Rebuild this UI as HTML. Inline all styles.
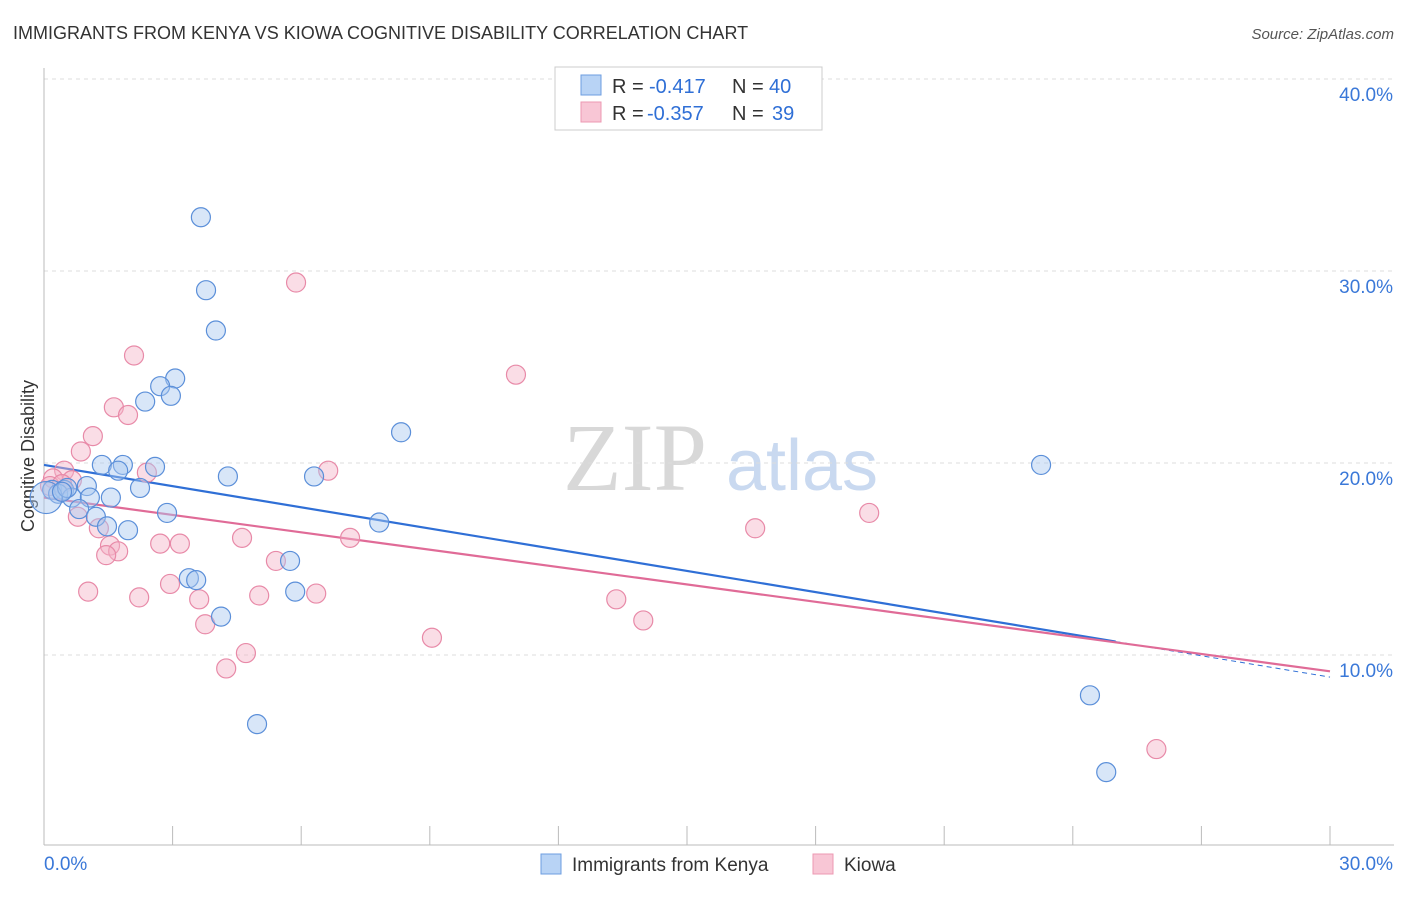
<!DOCTYPE html>
<html><head><meta charset="utf-8"><style>
body{margin:0;background:#fff;font-family:"Liberation Sans",sans-serif}
</style></head><body>
<svg id="chart" width="1406" height="892" xmlns="http://www.w3.org/2000/svg" font-family="Liberation Sans, sans-serif">
<text x="13" y="39" font-size="18" fill="#333">IMMIGRANTS FROM KENYA VS KIOWA COGNITIVE DISABILITY CORRELATION CHART</text>
<text x="1394" y="39" font-size="15" fill="#555" text-anchor="end" font-style="italic">Source: ZipAtlas.com</text>
<g>
<text x="635" y="490" font-size="96" fill="#d8d8d8" font-family="Liberation Serif, serif" text-anchor="middle">ZIP</text>
<text x="802" y="490" font-size="72" fill="#c9d9f0" text-anchor="middle">atlas</text>
</g>
<text transform="translate(34,456) rotate(-90)" font-size="18" fill="#333" text-anchor="middle">Cognitive Disability</text>
<g id="grid"></g><g id="axes"></g><g id="lines"></g><g id="pts"></g>
<g>
<rect x="555" y="67" width="267" height="63" fill="#fff" stroke="#ccc"/>
<rect x="581" y="75" width="20" height="20" fill="#b8d3f5" stroke="#6d9ee0"/>
<rect x="581" y="102" width="20" height="20" fill="#f8c6d5" stroke="#ec98b2"/>
<text x="612" y="93" font-size="20" fill="#333">R =</text>
<text x="649" y="93" font-size="20" fill="#2f6fd6">-0.417</text>
<text x="732" y="93" font-size="20" fill="#333">N =</text>
<text x="769" y="93" font-size="20" fill="#2f6fd6">40</text>
<text x="612" y="120" font-size="20" fill="#333">R =</text>
<text x="647" y="120" font-size="20" fill="#2f6fd6">-0.357</text>
<text x="732" y="120" font-size="20" fill="#333">N =</text>
<text x="772" y="120" font-size="20" fill="#2f6fd6">39</text>
</g>
<g>
<rect x="541" y="854" width="20" height="20" fill="#b8d3f5" stroke="#6d9ee0"/>
<text x="572" y="871" font-size="19" fill="#333">Immigrants from Kenya</text>
<rect x="813" y="854" width="20" height="20" fill="#f8c6d5" stroke="#ec98b2"/>
<text x="844" y="871" font-size="19" fill="#333">Kiowa</text>
</g>
</svg>
<script>
const blueX=[3.66,3.78,4.01,3.06,2.71,2.96,2.36,8.33,23.26,1.35,1.84,2.59,1.73,4.29,6.30,1.00,2.24,0.19,0.47,0.33,0.65,1.07,1.56,0.05,0.82,2.87,1.21,1.47,7.82,1.96,5.74,3.38,3.55,5.86,4.13,4.97,24.40,24.78,0.54,0.42];
const blueY=[32.8,29.0,26.9,24.4,24.0,23.5,23.2,21.6,19.9,19.9,19.9,19.8,19.6,19.3,19.3,18.8,18.7,18.6,18.6,18.4,18.2,18.2,18.2,18.2,17.6,17.4,17.2,16.7,16.9,16.5,14.9,14.0,13.9,13.3,12.0,6.4,7.9,3.9,18.7,18.5];
const pinkX=[5.88,11.01,2.10,1.63,1.96,1.14,0.86,0.47,2.40,6.63,0.65,0.21,0.14,0.79,19.25,16.59,1.28,4.62,7.14,2.71,3.17,1.54,1.73,1.45,5.41,2.94,1.03,6.35,5.02,2.22,3.62,13.35,13.98,3.76,9.05,4.71,4.25,25.95,0.42];
const pinkY=[29.4,24.6,25.6,22.9,22.5,21.4,20.6,19.6,19.5,19.6,19.1,19.2,18.8,17.2,17.4,16.6,16.6,16.1,16.1,15.8,15.8,15.7,15.4,15.2,14.9,13.7,13.3,13.2,13.1,13.0,12.9,12.9,11.8,11.6,10.9,10.1,9.3,5.1,18.9];
const blueLine=[19.9,10.7,25.0,8.85];
const pinkLine=[18.2,9.15];
const yTicks=[10,20,30,40];
const yTickLabels=["10.0%","20.0%","30.0%","40.0%"];
const xTicks=[0,3,6,9,12,15,18,21,24,27,30];
const NS="http://www.w3.org/2000/svg";
const X=v=>44+v*1286/30, Y=v=>847-v*19.2;
function mk(p,t,a){const e=document.createElementNS(NS,t);for(const k in a)e.setAttribute(k,a[k]);document.getElementById(p).appendChild(e);return e;}
yTicks.forEach((t,i)=>{
 const g=mk('grid','line',{x1:44,x2:1394,y1:Y(t),y2:Y(t),stroke:'#ddd','stroke-dasharray':'4 4'});
 
 
 const l=mk('grid','text',{x:1393,y:Y(t)+22,'font-size':19,fill:'#3a78d8','text-anchor':'end'});
 l.textContent=yTickLabels[i];
 
 
});
const ax=mk('axes','line',{x1:44,x2:44,y1:68,y2:845,stroke:'#bbb'});


const bx=mk('axes','line',{x1:44,x2:1394,y1:845,y2:845,stroke:'#bbb'});


xTicks.forEach(t=>{const e=mk('axes','line',{x1:X(t),x2:X(t),y1:826,y2:845,stroke:'#bbb'});
 
 });
const x0=mk('axes','text',{x:44,y:870,'font-size':19,fill:'#3a78d8'});x0.textContent='0.0%';


const x1=mk('axes','text',{x:1393,y:870,'font-size':19,fill:'#3a78d8','text-anchor':'end'});x1.textContent='30.0%';


function pts(xs,ys,fill,stroke,name,big){xs.forEach((x,i)=>{const c=mk('pts','circle',{cx:X(x),cy:Y(ys[i]),r:(big&&i===23)?16:9.5,fill:fill,'fill-opacity':0.45,stroke:stroke,'stroke-width':1.2});
 
 });}
pts(pinkX,pinkY,'#f5b3c8','#e88aa8','kiowa-point',false);
pts(blueX,blueY,'#a9c8f0','#5b8fd9','kenya-point',true);
const bl=mk('lines','line',{x1:X(0),y1:Y(blueLine[0]),x2:X(blueLine[2]),y2:Y(blueLine[1]),stroke:'#2f6fd6','stroke-width':2.2});


const bd=mk('lines','line',{x1:X(blueLine[2]),y1:Y(blueLine[1]),x2:X(30),y2:Y(blueLine[3]),stroke:'#2f6fd6','stroke-width':1,'stroke-dasharray':'5 4'});


const pl=mk('lines','line',{x1:X(0),y1:Y(pinkLine[0]),x2:X(30),y2:Y(pinkLine[1]),stroke:'#e06b97','stroke-width':2.2});


</script>
</body></html>
